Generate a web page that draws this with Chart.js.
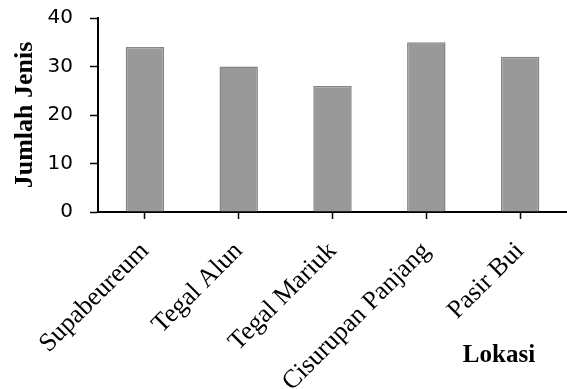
<!DOCTYPE html>
<html>
<head>
<meta charset="utf-8">
<script src="https://cdn.jsdelivr.net/npm/chart.js@4/dist/chart.umd.min.js"></script>
<style>
  html, body { margin: 0; padding: 0; background: #fff; }
  #wrap { width: 567px; height: 389px; }
</style>
</head>
<body>
<div id="wrap"><canvas id="c" width="567" height="389"></canvas></div>
<script>
/* ===== data ===== */
const locations = ['Supabeureum', 'Tegal Alun', 'Tegal Mariuk', 'Cisurupan Panjang', 'Pasir Bui'];
const speciesCount = [34, 30, 26, 35, 32];
const yTicks = [0, 10, 20, 30, 40];

const serif = '"Liberation Serif", "Times New Roman", serif';
const sans = '"DejaVu Sans", "Liberation Sans", sans-serif';

// "Lokasi" sits at the lower right, not under the tick labels
const lokasiLabel = {
  id: 'lokasiLabel',
  afterDraw(chart){
    const ctx = chart.ctx;
    ctx.save();
    ctx.font = 'bold 25px ' + serif;
    ctx.fillStyle = '#000';
    ctx.textAlign = 'center';
    ctx.textBaseline = 'middle';
    ctx.fillText('Lokasi', 499, 356);
    ctx.restore();
  }
};

new Chart(document.getElementById('c'), {
  type: 'bar',
  data: {
    labels: locations,
    datasets: [{
      data: speciesCount,
      backgroundColor: '#999999',
      borderColor: '#858585',
      borderWidth: 1.5,
      categoryPercentage: 1,
      barPercentage: 0.41
    }]
  },
  options: {
    responsive: false,
    animation: false,
    layout: { padding: { top: 18, right: 0, left: 0, bottom: 0 } },
    plugins: { legend: { display: false }, tooltip: { enabled: false } },
    scales: {
      x: {
        grid: { drawOnChartArea: false, offset: false, tickLength: 7, color: '#000', tickWidth: 1.5 },
        border: { color: '#000', width: 2 },
        ticks: {
          color: '#000', font: { family: serif, size: 26 },
          maxRotation: 45, minRotation: 45, padding: 17, autoSkip: false
        },
        afterFit: s => { s.height = 177; s.paddingLeft = 0; s.paddingRight = 0; }
      },
      y: {
        min: 0, max: 40,
        grid: { drawOnChartArea: false, tickLength: 8, color: '#000', tickWidth: 1.5 },
        border: { color: '#000', width: 2 },
        ticks: {
          stepSize: 5, color: '#000', padding: 17,
          font: { family: sans, size: 20 },
          callback: v => yTicks.includes(v) ? String(v) : ''
        },
        title: {
          display: true, text: 'Jumlah Jenis', color: '#000',
          font: { family: serif, size: 26, weight: 'bold' }, padding: { top: 10, bottom: 0 }
        },
        afterFit: s => { s.width = 98; s.paddingTop = 0; s.paddingBottom = 0; }
      }
    }
  },
  plugins: [lokasiLabel]
});
</script>
</body>
</html>
